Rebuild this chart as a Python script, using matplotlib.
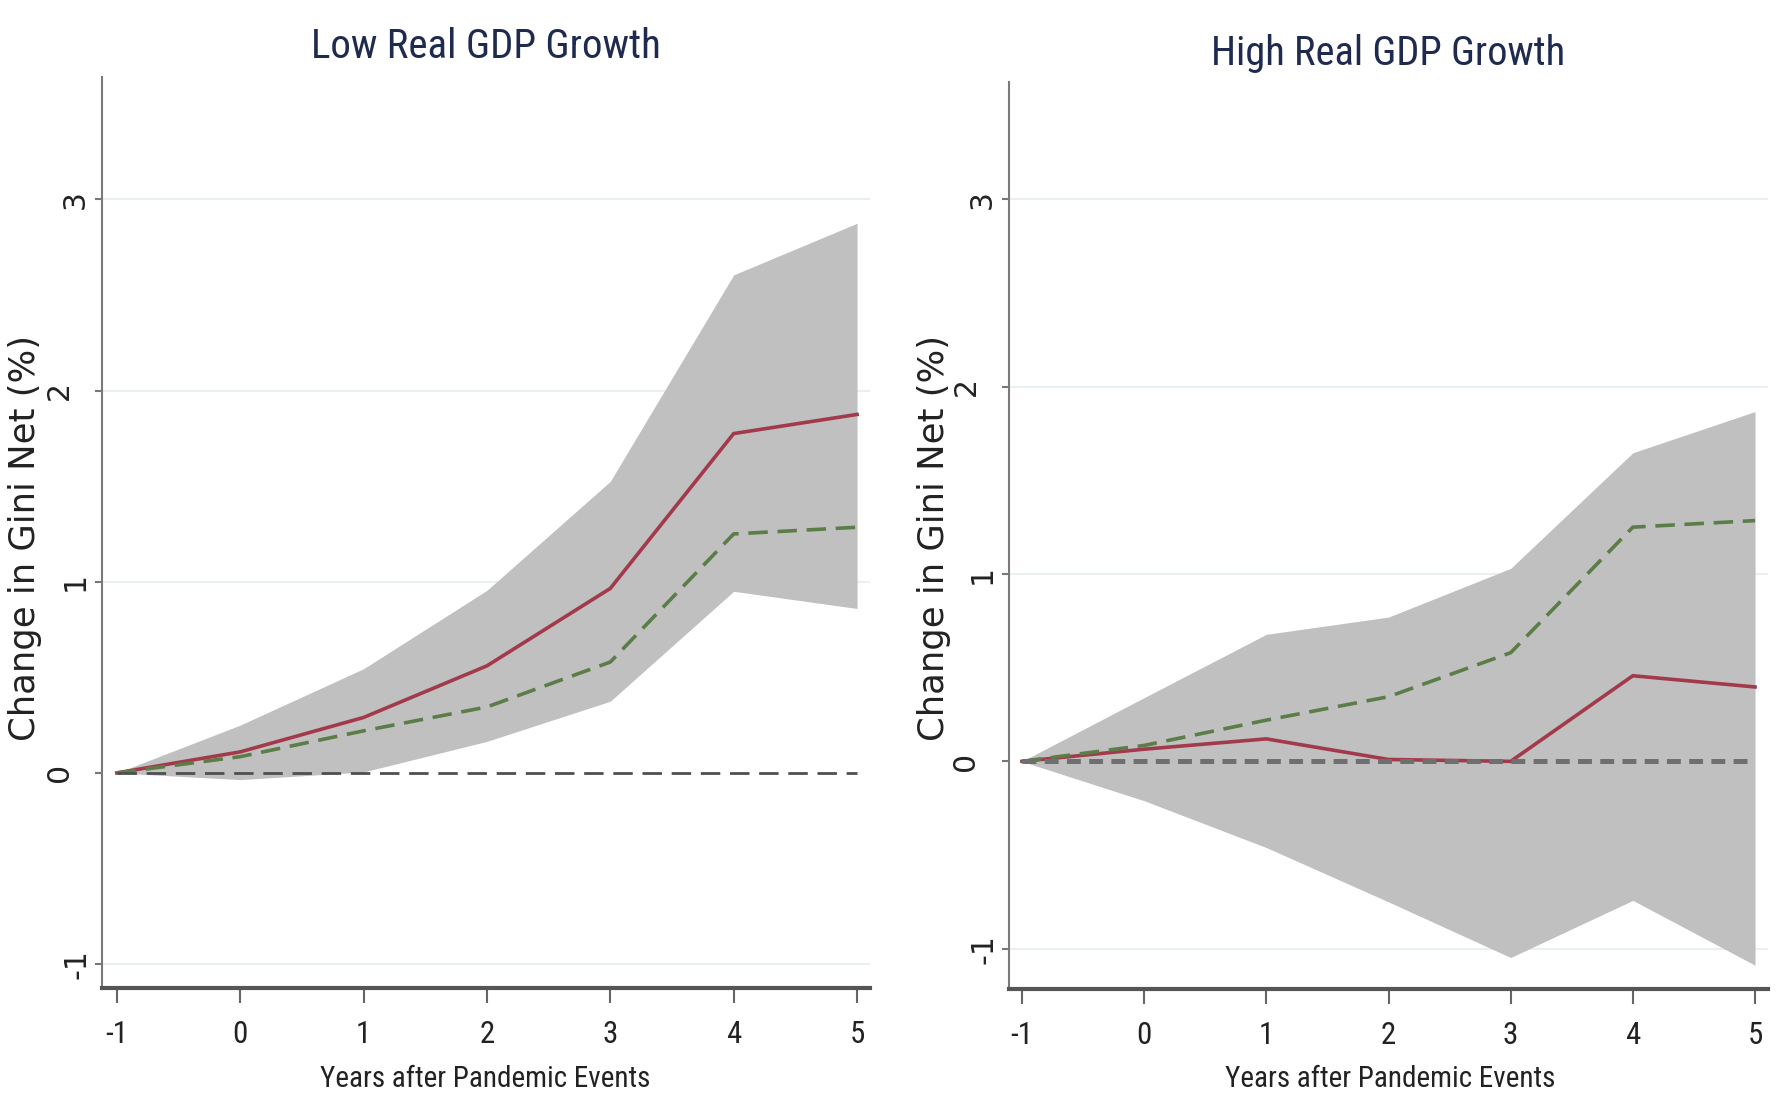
import os
import matplotlib
matplotlib.use("Agg")
import matplotlib.pyplot as plt
from matplotlib import font_manager as fm
from matplotlib.textpath import TextToPath
from matplotlib.transforms import offset_copy

# ---- data -------------------------------------------------------------
years = [-1, 0, 1, 2, 3, 4, 5]
y_ticks = [-1, 0, 1, 2, 3]
panel_titles = ["Low Real GDP Growth", "High Real GDP Growth"]
x_label = "Years after Pandemic Events"
y_label = "Change in Gini Net (%)"

# full-sample response (dashed green), same in both panels
baseline = [0, 0.085, 0.22, 0.345, 0.58, 1.25, 1.285]

# low real GDP growth
low_est = [0, 0.11, 0.29, 0.56, 0.965, 1.775, 1.875]
low_upper = [0, 0.25, 0.545, 0.955, 1.525, 2.605, 2.875]
low_lower = [0, -0.035, 0.005, 0.165, 0.375, 0.95, 0.86]

# high real GDP growth
high_est = [0, 0.065, 0.12, 0.01, 0.0, 0.457, 0.397]
high_upper = [0, 0.34, 0.678, 0.77, 1.03, 1.647, 1.867]
high_lower = [0, -0.21, -0.46, -0.75, -1.047, -0.742, -1.088]


# ---- fonts ------------------------------------------------------------
def condensed_font():
    """A narrow upright regular sans face, grotesque designs first."""
    entries = []
    for f in fm.fontManager.ttflist:
        key = (f.name + " " + os.path.basename(f.fname)).lower().replace("_", "").replace("-", "")
        if any(k in key for k in ("bold", "italic", "oblique", "light", "thin",
                                  "black", "medium", "semibold", "mono", "serif")):
            continue
        if f.style != "normal":
            continue
        entries.append((key.replace(" ", ""), f))
    preferred = ["robotocondensed", "liberationsansnarrow", "arimonarrow",
                 "nimbussansnarrow", "opensanscondensed", "notosansextracondensed",
                 "notosanscondensed", "extracondensed", "narrow", "condensed",
                 "semicondensed"]
    for pref in preferred:
        for key, f in entries:
            if pref in key:
                return fm.FontProperties(fname=f.fname)
    return fm.FontProperties(family="Liberation Sans")


NARROW = condensed_font()
WIDE = fm.FontProperties(family="DejaVu Sans")
t2p = TextToPath()
PX = 100 / 72  # pixels per point at 100 dpi


def fitted(prop, text, target_w, target_h, ref="H", wh=0.4):
    """Font size (pt) balancing a target ink width and a target cap height in px."""
    p = prop.copy()
    p.set_size(100)
    w, _, _ = t2p.get_text_width_height_descent(text, p, ismath=False)
    _, h, d = t2p.get_text_width_height_descent(ref, p, ismath=False)
    s_w = 100 * target_w / (w * PX)
    s_h = 100 * target_h / ((h - d) * PX)
    out = prop.copy()
    out.set_size(s_w ** (1 - wh) * s_h ** wh)
    return out


title_fp = [fitted(NARROW, t, 322, 33) for t in panel_titles]
xlabel_fp = fitted(NARROW, x_label, 292, 25)
xtick_fp = fitted(NARROW, "0", 13, 25, ref="0", wh=0.6)
ylabel_fp = WIDE.copy()
ylabel_fp.set_size(25.5)
ytick_fp = WIDE.copy()
ytick_fp.set_size(21.5)

plt.rcParams["lines.scale_dashes"] = False

W, H = 1777, 1096
fig = plt.figure(figsize=(W / 100, H / 100), dpi=100)
fig.patch.set_facecolor("white")

BAND = "#c0c0c0"
RED = "#a23a4c"
GREEN = "#5b7d47"
TITLE = "#1f2a4f"
TXT = "#222222"


def px_axes(left, top, right, bottom):
    return fig.add_axes([left / W, 1 - bottom / H, (right - left) / W, (bottom - top) / H])


panels = [
    dict(rect=(102, 77, 870, 988), xlim=(-1.12, 5.105), ylim=(-1.125, 3.64),
         est=low_est, up=low_upper, lo=low_lower, title=panel_titles[0], tfp=title_fp[0],
         title_xy=(486, 58), xlab_x=485, ylab_x=25,
         zero_col="#4f4f4f", zero_lw=2.0, zero_dash=(14, 7)),
    dict(rect=(1009, 82, 1768, 989), xlim=(-1.106, 5.106), ylim=(-1.215, 3.626),
         est=high_est, up=high_upper, lo=high_lower, title=panel_titles[1], tfp=title_fp[1],
         title_xy=(1388, 65), xlab_x=1390, ylab_x=934,
         zero_col="#6f6f6f", zero_lw=3.6, zero_dash=(10, 6)),
]

# horizontal offset (px) of each rotated y tick label from the axis line
label_offsets = {-1: 25, 0: 43, 1: 27, 2: 43, 3: 27}

for p in panels:
    ax = px_axes(*p["rect"])
    ax.set_xlim(*p["xlim"])
    ax.set_ylim(*p["ylim"])

    # confidence band, estimates and zero reference
    ax.fill_between(years, p["lo"], p["up"], color=BAND, lw=0, zorder=1)
    ax.plot(years, p["est"], color=RED, lw=2.6, zorder=3, solid_joinstyle="miter")
    ax.plot(years, baseline, color=GREEN, lw=2.6, dashes=(14, 7), zorder=4)
    span = p["xlim"][1] - p["xlim"][0]
    ax.axhline(0, color=p["zero_col"], lw=p["zero_lw"], dashes=p["zero_dash"],
               xmin=(years[0] - p["xlim"][0]) / span,
               xmax=(years[-1] - p["xlim"][0]) / span, zorder=5)

    # grid
    for yv in y_ticks:
        if yv != 0:
            ax.axhline(yv, color="#e9f0f0", lw=1.5, zorder=0)

    # spines
    for s in ("top", "right"):
        ax.spines[s].set_visible(False)
    ax.spines["left"].set_color("#7a7a7a")
    ax.spines["left"].set_linewidth(1.5)
    ax.spines["bottom"].set_color("#555555")
    ax.spines["bottom"].set_linewidth(3)

    # x ticks
    ax.set_xticks(years)
    ax.set_xticklabels([str(v) for v in years], fontproperties=xtick_fp, color=TXT)
    ax.tick_params(axis="x", length=11, width=1.5, color="#666666", pad=12)

    # y ticks: marks via the axis, rotated labels placed beside them
    ax.set_yticks(y_ticks)
    ax.set_yticklabels([])
    ax.tick_params(axis="y", length=5, width=1.5, color="#777777")
    for yv in y_ticks:
        tr = offset_copy(ax.get_yaxis_transform(), fig=fig,
                         x=-label_offsets[yv], y=0, units="dots")
        ax.text(0, yv, str(yv), transform=tr, rotation=90, ha="center", va="center",
                fontproperties=ytick_fp, color=TXT)

    # titles and labels
    cx, by = p["title_xy"]
    fig.text(cx / W, 1 - by / H, p["title"], ha="center", va="baseline",
             fontproperties=p["tfp"], color=TITLE)
    fig.text(p["xlab_x"] / W, 1 - 1087 / H, x_label, ha="center", va="baseline",
             fontproperties=xlabel_fp, color=TXT)
    fig.text(p["ylab_x"] / W, 1 - 538 / H, y_label, ha="center", va="center",
             rotation=90, fontproperties=ylabel_fp, color=TXT)

fig.savefig("out.png", dpi=100, facecolor="white")
